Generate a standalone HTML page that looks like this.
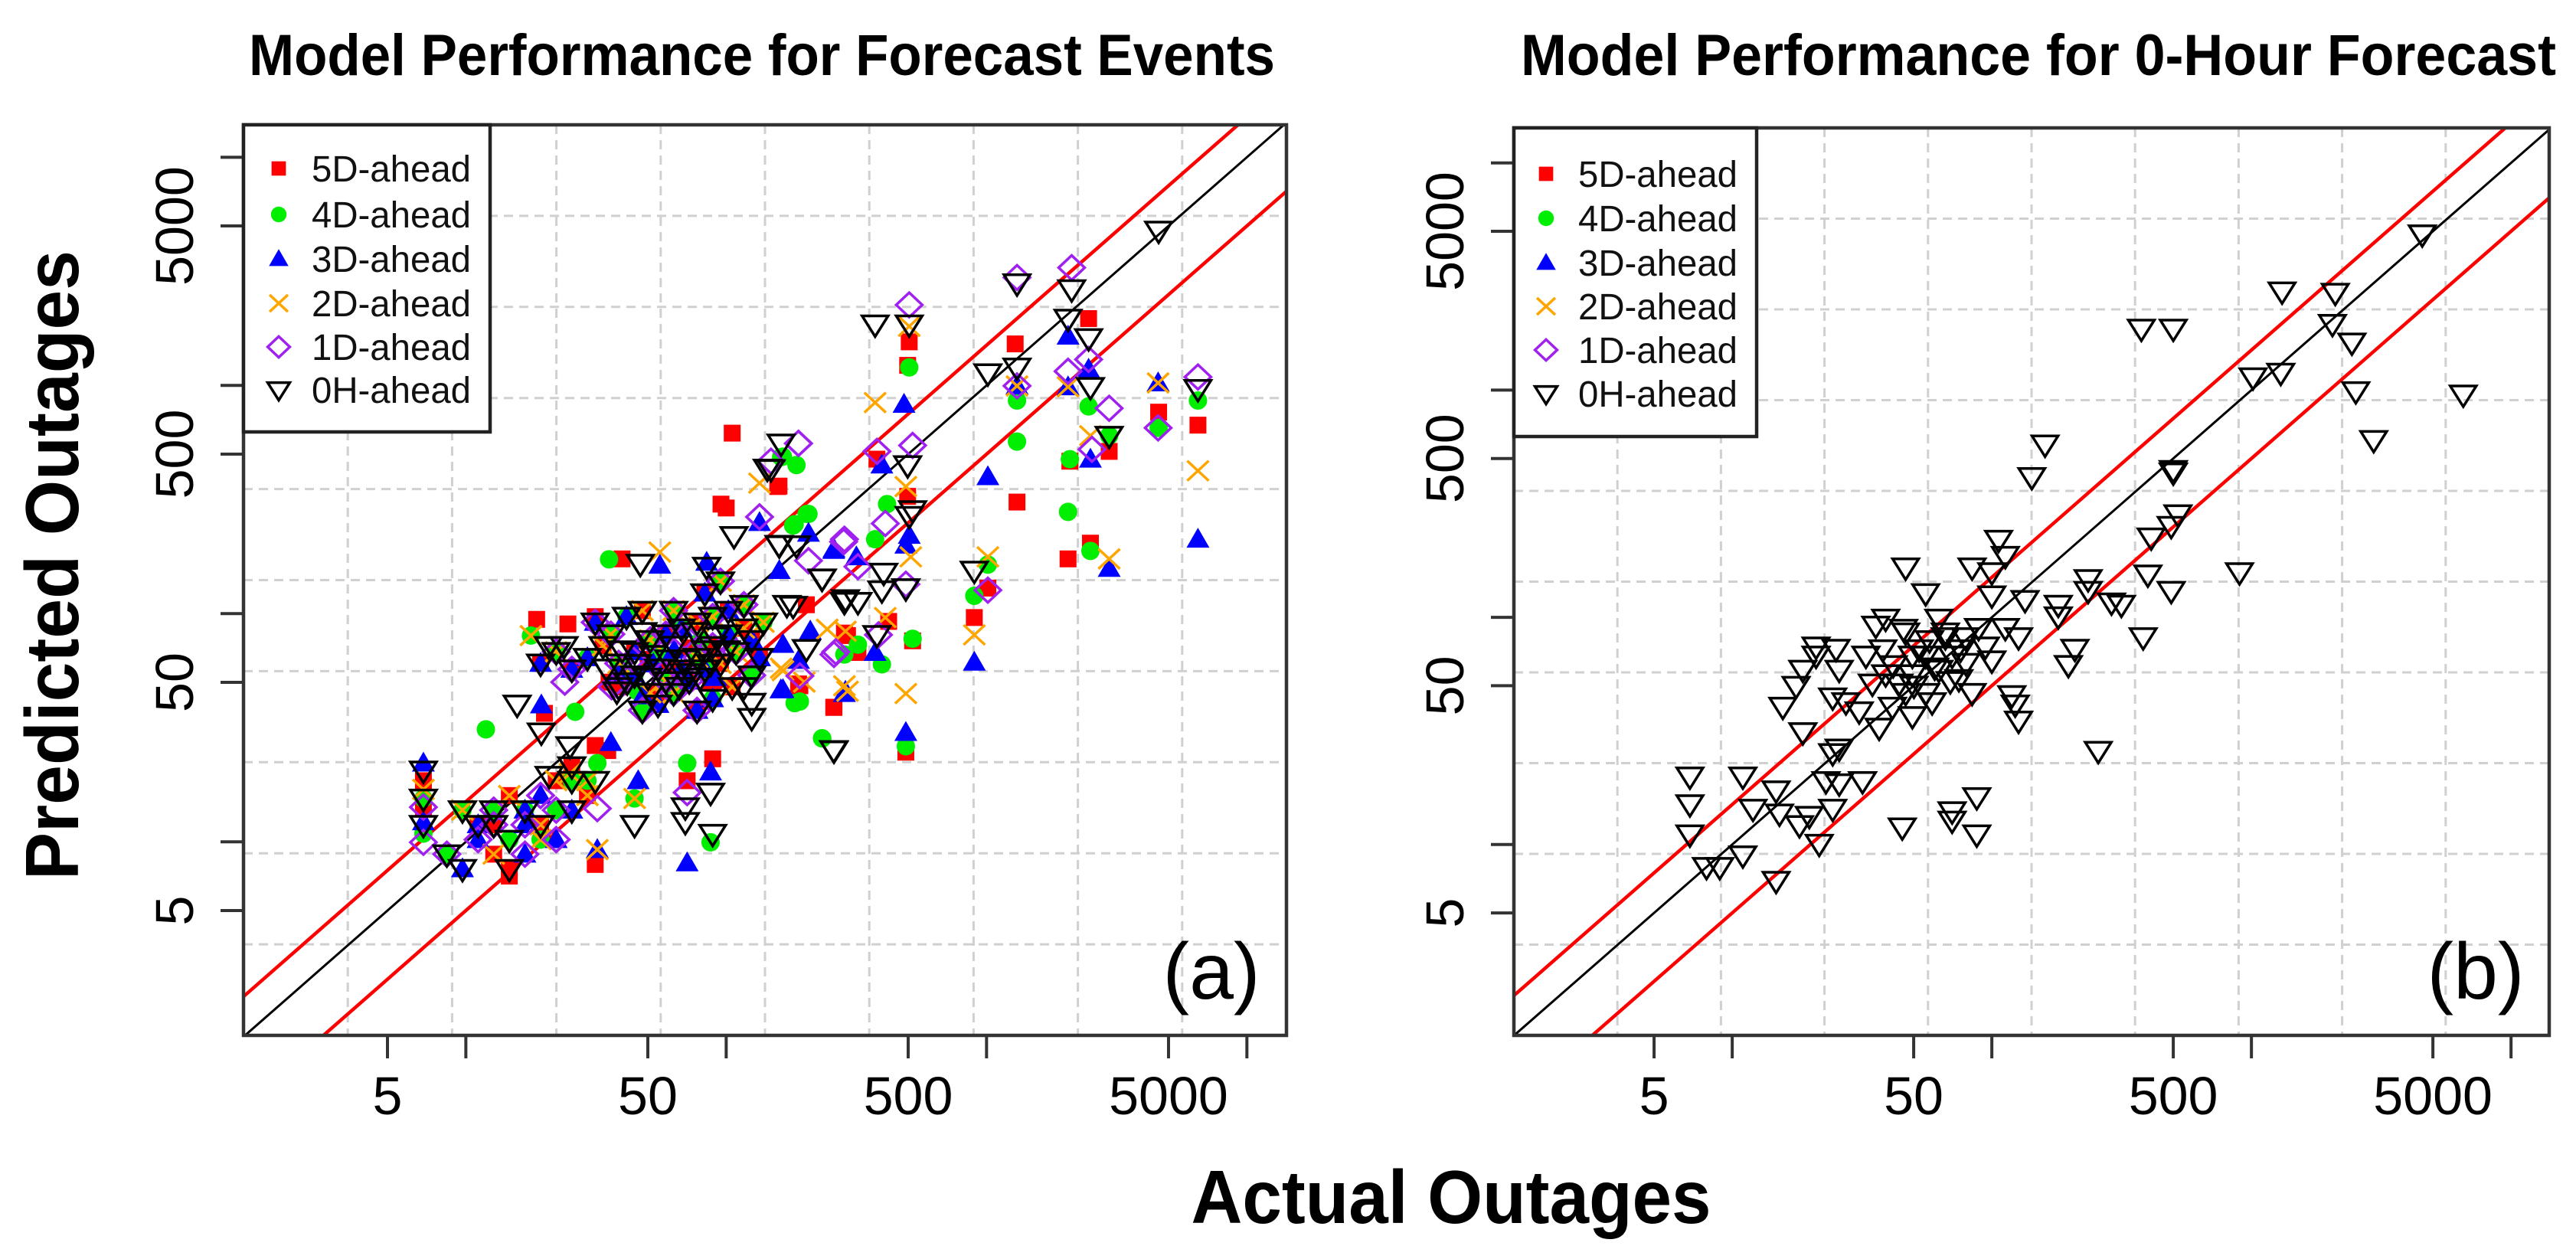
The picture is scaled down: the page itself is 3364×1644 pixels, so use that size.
<!DOCTYPE html>
<html><head><meta charset="utf-8"><style>
html,body{margin:0;padding:0;background:#fff;width:3364px;height:1644px;overflow:hidden;position:relative;}
svg{display:block;position:absolute;left:0;top:0;overflow:hidden;font-family:"Liberation Sans",Arial,sans-serif;}
script{display:none;}
</style></head><body>
<svg id="fig" width="3364" height="1644" viewBox="0 0 3364 1644" xmlns="http://www.w3.org/2000/svg">
<rect x="0" y="0" width="3364" height="1644" fill="#fff"/>
<text x="325" y="98" font-size="76" font-weight="bold" textLength="1340" lengthAdjust="spacingAndGlyphs">Model Performance for Forecast Events</text>
<text x="1986" y="98" font-size="76" font-weight="bold" textLength="1352" lengthAdjust="spacingAndGlyphs">Model Performance for 0-Hour Forecast</text>
<text transform="translate(102,738) rotate(-90)" text-anchor="middle" font-size="98" font-weight="bold" textLength="822" lengthAdjust="spacingAndGlyphs">Predicted Outages</text>
<text x="1895" y="1597" text-anchor="middle" font-size="98" font-weight="bold" textLength="679" lengthAdjust="spacingAndGlyphs">Actual Outages</text>
<g id="pa"></g>
<g id="pb"></g>
</svg>
<script>
// ---- data (log10 actual, log10 predicted) ----
const seriesNames = ["5D-ahead","4D-ahead","3D-ahead","2D-ahead","1D-ahead","0H-ahead"];
const tickValues = [5,10,50,100,500,1000,5000,10000];
const tickLabels = ["5","","50","","500","","5000",""];

const s5D = [[0.837,1.268],[0.837,1.152],
[1.047,1.075],[1.167,1.203],[1.347,1.268],[1.107,0.946],[1.287,1.075],[1.467,1.203],[1.167,0.882],[1.407,1.332],[1.107,1.075],
[1.287,1.782],[1.407,1.756],[1.527,1.859],[1.648,1.833],[1.768,1.910],[1.888,1.962],[2.008,2.013],[1.587,1.679],[1.708,1.653],[1.828,1.756],[1.948,1.859],[2.068,1.936],[1.738,1.602],[1.858,1.705],[1.978,1.782],[2.098,1.885],[1.497,1.962],[1.678,2.013],[1.918,2.090],[1.888,1.576],[2.023,1.679],[2.128,1.807],
[1.62,1.72],[1.70,1.80],[1.78,1.75],[1.86,1.85],[1.55,1.70],[1.94,1.70],
[2.023,2.791],[2.000,2.463],[1.980,2.480],[2.203,2.559],[1.272,1.975],[1.392,1.955],[1.497,1.987],[1.302,1.563],[2.413,1.589],[2.278,1.692],[2.308,2.039],[2.466,1.904],[1.948,1.364],[1.850,1.268],[1.497,0.901],[1.497,1.422],[1.545,1.400],[1.600,2.240],[1.167,0.850],
[3.392,3.293],[3.110,3.182],[2.703,3.191],[2.697,3.088],[3.661,2.883],[3.812,2.826],[3.471,2.711],[3.320,2.668],[3.117,2.489],[3.399,2.309],[3.313,2.240],[2.579,2.677],[2.697,2.514],[2.198,2.557],[2.953,1.983],[3.005,2.112],[2.454,1.915],[2.506,1.830],[2.414,1.590],[2.283,1.684],[2.690,1.393],[2.716,1.881],[2.624,1.966]];

const s4D = [[0.837,1.190],[0.837,1.036],
[0.987,1.139],[1.107,1.139],[1.227,1.139],[1.407,1.268],[1.167,1.010],[1.347,1.139],[0.927,0.946],[1.287,1.010],[1.467,1.268],
[1.347,1.833],[1.467,1.807],[1.587,1.782],[1.708,1.885],[1.828,1.936],[1.948,1.987],[2.068,2.039],[1.648,1.730],[1.768,1.705],[1.888,1.807],[2.008,1.910],[1.678,1.576],[1.798,1.653],[1.918,1.756],[2.038,1.833],[1.557,1.910],[1.617,1.987],[1.798,2.013],[1.978,2.142],[1.948,1.627],[2.098,1.730],[2.143,1.962],
[1.60,1.76],[1.74,1.82],[1.82,1.70],[1.90,1.88],[1.66,1.66],
[2.218,2.688],[2.316,2.437],[2.263,2.392],[1.550,2.238],[1.250,1.904],[1.077,1.493],[2.263,1.608],[2.368,1.454],[1.850,1.345],[1.940,0.998],[1.648,1.190],[1.505,1.345],[1.420,1.570],
[2.703,3.079],[3.117,2.934],[3.117,2.754],[3.392,2.908],[3.812,2.934],[3.661,2.814],[3.313,2.446],[3.399,2.275],[3.471,2.780],[3.320,2.677],[2.270,2.651],[2.211,2.686],[2.309,2.437],[2.257,2.386],[2.618,2.480],[2.572,2.326],[3.005,2.215],[2.953,2.078],[2.716,1.890],[2.506,1.864],[2.598,1.778],[2.283,1.615],[2.369,1.453],[2.690,1.419],[2.454,1.821]];

const s3D = [[0.837,1.345],[0.837,1.088],
[1.047,1.075],[1.227,1.139],[1.287,1.203],[1.047,1.010],[1.227,1.075],[1.407,1.139],[0.987,0.882],[1.347,1.010],[1.227,0.946],
[1.287,1.782],[1.467,1.807],[1.648,1.833],[1.828,1.936],[2.008,2.013],[1.648,1.730],[1.828,1.756],[2.008,1.910],[1.738,1.602],[1.918,1.756],[2.098,1.885],[1.617,1.987],[1.918,2.090],[1.948,1.627],[2.128,1.807],[1.407,1.756],[1.768,1.910],[1.858,1.705],[1.497,1.962],[1.888,1.576],
[1.58,1.74],[1.72,1.78],[1.80,1.84],[1.96,1.72],[1.68,1.64],
[2.128,2.399],[1.745,2.212],[1.925,2.225],[2.413,2.277],[2.458,1.660],[2.210,1.666],[2.278,1.795],[2.218,1.865],[1.940,1.306],[1.662,1.268],[1.505,0.966],[1.557,1.435],[1.850,0.908],[1.290,1.600],
[2.683,2.917],[3.005,2.600],[3.313,3.216],[3.392,3.071],[3.117,2.998],[3.313,2.994],[3.659,3.011],[3.399,2.677],[3.471,2.198],[3.812,2.326],[2.598,2.651],[2.316,2.352],[2.414,2.283],[2.500,2.249],[2.703,2.343],[2.690,2.300],[2.572,1.830],[2.953,1.787],[2.454,1.650],[2.218,1.667],[2.690,1.479],[2.204,2.189],[2.323,1.924]];

const s2D = [[0.837,1.230],
[0.987,1.139],[1.167,1.203],[1.347,1.268],[1.107,0.946],[1.287,1.075],[1.467,1.203],[1.287,1.010],[1.467,1.268],
[1.347,1.833],[1.527,1.859],[1.708,1.885],[1.888,1.962],[2.068,2.039],[1.708,1.653],[1.888,1.807],[2.068,1.936],[1.798,1.653],[1.978,1.782],[1.557,1.910],[1.678,2.013],[1.978,2.142],[2.023,1.679],[2.143,1.962],[1.587,1.782],[1.948,1.987],[1.768,1.705],[2.038,1.833],[1.798,2.013],
[1.745,2.270],[2.128,2.572],[1.250,1.904],[2.458,1.923],[2.218,1.750],[2.466,1.660],[1.648,1.190],[1.505,0.966],[1.400,1.300],[2.300,1.700],
[2.572,2.925],[2.703,3.259],[3.117,2.998],[3.313,2.994],[3.399,2.780],[3.659,3.011],[3.812,2.626],[3.471,2.240],[3.005,2.249],[2.953,1.907],[2.690,2.557],[2.454,1.684],[2.690,1.650],[2.211,1.761],[2.611,1.983],[2.709,2.249],[2.388,1.932]];

const s1D = [[0.837,1.152],[0.837,0.998],
[1.107,1.139],[1.287,1.203],[1.047,1.010],[1.227,1.075],[1.347,1.139],[0.927,0.946],[1.347,1.010],[1.227,0.946],[1.107,1.075],
[1.407,1.756],[1.587,1.782],[1.768,1.910],[1.948,1.987],[1.587,1.679],[1.768,1.705],[1.948,1.859],[1.678,1.576],[1.858,1.705],[2.038,1.833],[1.497,1.962],[1.798,2.013],[1.888,1.576],[2.098,1.730],[1.347,1.833],[1.708,1.885],[2.068,2.039],[1.888,1.807],[1.798,1.653],[1.557,1.910],[1.978,2.142],
[1.64,1.80],[1.76,1.74],[1.84,1.90],[1.56,1.68],
[2.278,2.746],[2.128,2.424],[2.451,2.315],[2.421,1.833],[1.850,1.216],[1.505,1.146],[1.380,1.700],
[2.703,3.353],[3.117,3.473],[3.327,3.516],[3.313,3.062],[3.392,3.114],[3.471,2.900],[3.659,2.814],[3.812,3.037],[3.405,2.720],[3.117,2.998],[2.716,2.737],[2.579,2.711],[2.277,2.746],[2.454,2.326],[2.316,2.232],[2.611,2.395],[2.506,2.206],[3.005,2.103],[2.414,1.821],[2.283,1.727],[2.585,1.907],[2.690,2.129],[2.172,2.668]];

const s0H = [[0.837,1.313],[0.837,1.190],[0.837,1.075],
[0.987,1.139],[1.047,1.075],[1.107,1.139],[1.227,1.139],[1.407,1.268],[1.167,1.010],[1.287,1.075],[1.407,1.139],[0.927,0.946],[0.987,0.882],[1.167,0.882],[1.407,1.332],[1.107,1.075],
[1.287,1.782],[1.347,1.833],[1.407,1.756],[1.467,1.807],[1.527,1.859],[1.587,1.782],[1.648,1.833],[1.708,1.885],[1.768,1.910],[1.828,1.936],[1.888,1.962],[1.948,1.987],[2.008,2.013],[2.068,2.039],[1.587,1.679],[1.648,1.730],[1.708,1.653],[1.768,1.705],[1.828,1.756],[1.888,1.807],[1.948,1.859],[2.008,1.910],[2.068,1.936],[1.678,1.576],[1.738,1.602],[1.798,1.653],[1.858,1.705],[1.918,1.756],[1.978,1.782],[2.038,1.833],[2.098,1.885],[1.557,1.910],[1.497,1.962],[1.617,1.987],[1.678,2.013],[1.798,2.013],[1.918,2.090],[1.978,2.142],[1.888,1.576],[1.948,1.627],[2.023,1.679],[2.098,1.730],[2.128,1.807],[2.143,1.962],
[1.54,1.76],[1.60,1.84],[1.62,1.70],[1.66,1.78],[1.70,1.72],[1.72,1.82],[1.74,1.76],[1.78,1.80],[1.80,1.86],[1.82,1.68],[1.84,1.80],[1.86,1.74],[1.90,1.72],[1.92,1.84],[1.94,1.78],[1.96,1.90],[1.58,1.66],[1.68,1.92],[1.88,1.92],[2.00,1.84],
[2.158,2.636],[2.030,2.341],[2.203,2.302],[1.670,2.219],[1.925,2.206],[1.317,1.859],[1.377,1.859],[1.197,1.602],[2.413,1.403],[2.098,1.544],[2.098,1.610],[2.068,1.679],[2.233,2.039],[2.368,2.154],[2.458,2.064],[2.308,1.846],[1.940,1.216],[1.948,1.036],[1.843,1.152],[1.843,1.088],[1.648,1.075],[1.497,1.268],[1.400,1.420],[1.290,1.480],[1.320,1.290],
[2.572,3.268],[2.703,3.268],[3.117,3.448],[3.327,3.422],[3.313,3.293],[3.392,3.208],[3.661,3.679],[3.005,3.054],[3.117,3.079],[3.399,2.994],[3.471,2.780],[3.812,2.985],[2.697,2.651],[2.211,2.746],[2.172,2.634],[2.204,2.300],[2.270,2.300],[2.369,2.155],[2.454,2.052],[2.506,2.052],[2.605,2.180],[2.690,2.112],[2.598,2.103],[2.579,1.907],[2.953,2.189],[2.414,1.401],[2.257,2.035],[2.703,2.429],[2.716,2.454]];

const b0H = [[3.658,3.686],[3.118,3.435],[3.323,3.429],[2.576,3.271],[2.699,3.271],[3.312,3.292],[3.387,3.210],[3.006,3.057],[3.113,3.077],[3.402,2.996],[3.816,2.981],[3.471,2.781],[2.205,2.761],[2.154,2.618],[2.699,2.649],[2.699,2.638],[2.717,2.454],[2.691,2.403],[2.614,2.352],[2.954,2.199],[2.601,2.189],[2.691,2.117],[2.583,1.913],[2.461,2.066],[2.499,2.056],[2.371,2.169],[2.371,2.117],[2.320,1.862],[2.295,1.791],[2.256,2.056],[2.256,2.005],[2.410,1.413],[1.655,1.076],[1.847,1.147],[1.847,1.106],[1.942,1.209],[1.942,1.045],[2.077,1.658],[2.103,1.546],[2.090,1.617],[0.837,1.300],[0.837,1.178],[0.837,1.045],[1.041,1.300],[0.901,0.902],[0.952,0.902],[1.041,0.953],[1.169,0.841],[1.335,1.004],[1.080,1.158],[1.169,1.239],[1.182,1.137],[1.259,1.086],[1.297,1.127],[1.361,1.280],[1.412,1.270],[1.502,1.280],[1.387,1.158],[1.412,1.423],[1.387,1.403],[1.272,1.495],[1.195,1.607],[1.246,1.699],[1.272,1.770],[1.323,1.832],[1.323,1.872],[1.400,1.862],[1.412,1.770],[1.387,1.648],[1.438,1.627],[1.489,1.587],[1.566,1.515],[1.591,1.995],[1.668,2.220],[1.745,2.107],[1.553,1.964],[1.668,1.934],[1.694,1.832],[1.821,1.934],[1.924,2.220],[2.026,2.342],[2.052,2.271],[2.000,2.199],[1.515,1.832],[1.591,1.750],[1.642,1.709],[1.694,1.750],[1.745,1.668],[1.796,1.770],[1.847,1.832],[1.898,1.913],[1.949,1.954],[1.975,1.872],[2.000,1.811],[1.821,1.913],[1.873,1.729],[1.924,1.668],[1.617,1.607],[1.694,1.566],[1.745,1.832],[1.540,1.709],[2.052,1.954],[2.103,1.913],[2.128,2.077],[1.796,1.995],[2.000,2.097],[1.668,1.668],[1.770,1.627],
[1.62,1.79],[1.70,1.70],[1.72,1.86],[1.78,1.78],[1.84,1.72],[1.88,1.86],[1.58,1.86],[1.66,1.95],[1.90,1.80],[1.76,1.90]];

// ---- rendering ----
const NS = "http://www.w3.org/2000/svg";
function mk(tag, attrs, parent){const e=document.createElementNS(NS,tag);for(const k in attrs)e.setAttribute(k,attrs[k]);parent.appendChild(e);return e;}

const panels = [
  {g:document.getElementById('pa'), x0:318,x1:1680,y0:163,y1:1352, xlo:0.146,xhi:4.152, ylo:0.152,yhi:4.142,
   legend:{x:318,y:163,w:322,h:401,symX:364,textX:407,rows:[220,280,338,396,453,509]}, tag:"(a)", tagX:1582, key:'a',
   series:[s5D,s4D,s3D,s2D,s1D,s0H]},
  {g:document.getElementById('pb'), x0:1977,x1:3329,y0:167,y1:1352, xlo:0.159,xhi:4.147, ylo:0.160,yhi:4.154,
   legend:{x:1977,y:167,w:317,h:403,symX:2019,textX:2061,rows:[227,285,343,400,457,514]}, tag:"(b)", tagX:3233, key:'b',
   series:[[],[],[],[],[],b0H]}
];
const styles = ["sq","ci","tu","x","di","td"];
const keys = ["5d","4d","3d","2d","1d","0h"];

function marker(g, type, x, y, s){
  let e;
  if(type==="sq") e=mk('rect',{x:x-11*s,y:y-11*s,width:22*s,height:22*s,fill:'#ff0000'},g);
  else if(type==="ci") e=mk('circle',{cx:x,cy:y,r:12*s,fill:'#00ee00'},g);
  else if(type==="tu") e=mk('polygon',{points:`${x},${y-15*s} ${x-15*s},${y+11*s} ${x+15*s},${y+11*s}`,fill:'#0000ff'},g);
  else if(type==="x") e=mk('path',{d:`M${x-14*s},${y-13*s}L${x+14*s},${y+13*s}M${x-14*s},${y+13*s}L${x+14*s},${y-13*s}`,stroke:'#ffa500','stroke-width':3.5,fill:'none'},g);
  else if(type==="di") e=mk('polygon',{points:`${x},${y-16*s} ${x+17*s},${y} ${x},${y+16*s} ${x-17*s},${y}`,stroke:'#a020f0','stroke-width':3.5,fill:'none'},g);
  else e=mk('polygon',{points:`${x-17*s},${y-11*s} ${x+17*s},${y-11*s} ${x},${y+16*s}`,stroke:'#000','stroke-width':3.5,fill:'none'},g);
  return e;
}

panels.forEach(p=>{
  const sx = L => p.x0 + (L-p.xlo)/(p.xhi-p.xlo)*(p.x1-p.x0);
  const sy = L => p.y1 - (L-p.ylo)/(p.yhi-p.ylo)*(p.y1-p.y0);
  const g = p.g;
  const grid = mk('g',{},g);
  
  
  for(let i=1;i<10;i++){
    const gx = p.x0 + i*(p.x1-p.x0)/10, gy = p.y0 + i*(p.y1-p.y0)/10;
    mk('line',{x1:gx,y1:p.y0,x2:gx,y2:p.y1,stroke:'#d0d0d0','stroke-width':3,'stroke-dasharray':'12,8'},grid);
    mk('line',{x1:p.x0,y1:gy,x2:p.x1,y2:gy,stroke:'#d0d0d0','stroke-width':3,'stroke-dasharray':'12,8'},grid);
  }
  const cid='clip'+p.key;
  const cp = mk('clipPath',{id:cid},g);
  mk('rect',{x:p.x0,y:p.y0,width:p.x1-p.x0,height:p.y1-p.y0},cp);
  const lines = mk('g',{'clip-path':`url(#${cid})`},g);
  
  
  [[0,'#000',3,'one-to-one-line'],[Math.log10(1.5),'#ff0000',4.5,'upper-bound-line'],[-Math.log10(2),'#ff0000',4.5,'lower-bound-line']].forEach(d=>{
    const l = mk('line',{x1:sx(0),y1:sy(0+d[0]),x2:sx(5),y2:sy(5+d[0]),stroke:d[1],'stroke-width':d[2]},lines);
    
    
  });
  p.series.forEach((arr,si)=>{
    const sg = mk('g',{},g);
    
    
    arr.forEach(pt=>{
      const m = marker(sg, styles[si], sx(pt[0]), sy(pt[1]), 1);
      
      
    });
  });
  const fr = mk('rect',{x:p.x0,y:p.y0,width:p.x1-p.x0,height:p.y1-p.y0,fill:'none',stroke:'#333','stroke-width':4.5},g);
  
  
  const ax = mk('g',{},g);
  
  
  tickValues.forEach((v,i)=>{
    const L=Math.log10(v), X=sx(L), Y=sy(L);
    mk('line',{x1:X,y1:p.y1,x2:X,y2:p.y1+30,stroke:'#333','stroke-width':4},ax);
    mk('line',{x1:p.x0,y1:Y,x2:p.x0-30,y2:Y,stroke:'#333','stroke-width':4},ax);
    if(tickLabels[i]){
      const tx = mk('text',{x:X,y:1455,'text-anchor':'middle','font-size':70},ax);
      tx.textContent = tickLabels[i];
      
      
      const ty = mk('text',{transform:`translate(${p.x0-66},${Y}) rotate(-90)`,'text-anchor':'middle','font-size':70},ax);
      ty.textContent = tickLabels[i];
      
      
    }
  });
  const tg = mk('text',{x:p.tagX,y:1304,'text-anchor':'middle','font-size':104},g);
  tg.textContent = p.tag;
  
  
  const lg = mk('g',{},g);
  
  
  const lz = p.legend;
  mk('rect',{x:lz.x,y:lz.y,width:lz.w,height:lz.h,fill:'#fff',stroke:'#222','stroke-width':4.5},lg);
  seriesNames.forEach((n,i)=>{
    const en = mk('g',{},lg);
    
    
    marker(en, styles[i], lz.symX, lz.rows[i], 0.85);
    const t = mk('text',{x:lz.textX,y:lz.rows[i]+17,'font-size':48,textLength:208,lengthAdjust:'spacingAndGlyphs',fill:'#111'},en);
    t.textContent = n;
  });
});
</script>
</body></html>
